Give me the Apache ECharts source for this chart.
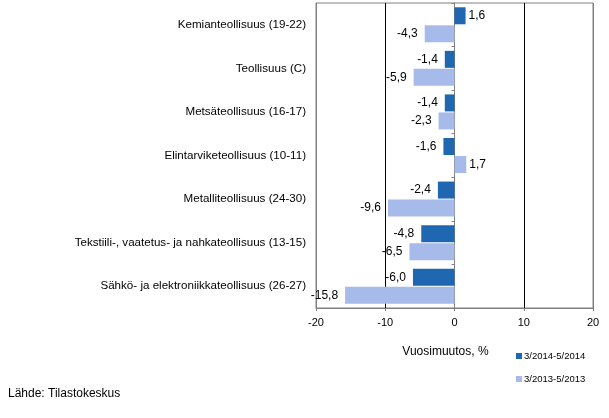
<!DOCTYPE html>
<html>
<head>
<meta charset="utf-8">
<script src="https://cdn.jsdelivr.net/npm/echarts@6/dist/echarts.min.js"></script>
<style>
  html, body { margin: 0; padding: 0; background: #fff; }
  #chart { width: 609px; height: 418px; }
</style>
</head>
<body>
<div id="chart"></div>
<script>
// toimialat ylhäältä alas
const categories = [
  'Kemianteollisuus (19-22)',
  'Teollisuus (C)',
  'Metsäteollisuus (16-17)',
  'Elintarviketeollisuus (10-11)',
  'Metalliteollisuus (24-30)',
  'Tekstiili-, vaatetus- ja nahkateollisuus (13-15)',
  'Sähkö- ja elektroniikkateollisuus (26-27)'
]
const series2014 = [1.6, -1.4, -1.4, -1.6, -2.4, -4.8, -6.0]
const series2013 = [-4.3, -5.9, -2.3, 1.7, -9.6, -6.5, -15.8]
const seriesNames = ['3/2014-5/2014', '3/2013-5/2013']
const xTicks = [-20, -10, 0, 10, 20]

const FONT = '"Liberation Sans", Arial, sans-serif'

// label oikealle positiivisille, vasemmalle negatiivisille
const toItems = (arr) => arr.map((v) => ({
  value: v,
  label: {
    position: v >= 0 ? 'right' : 'left',
    distance: v >= 0 ? 3 : 7
  }
}))

const barSeries = (name, arr, color) => ({
  name: name,
  type: 'bar',
  data: toItems(arr),
  barWidth: 17,
  barGap: '6%',
  itemStyle: { color: color },
  label: {
    show: true,
    color: '#000',
    fontFamily: FONT,
    fontSize: 12,
    formatter: (p) => p.value.toFixed(1).replace('.', ',')
  }
})

const chart = echarts.init(document.getElementById('chart'))
chart.setOption({
  animation: false,
  grid: {
    left: 316, right: 16, top: 3, bottom: 110,
    show: true, borderColor: '#808080', borderWidth: 1
  },
  xAxis: {
    type: 'value',
    min: xTicks[0],
    max: xTicks[xTicks.length - 1],
    interval: 10,
    name: 'Vuosimuutos, %',
    nameLocation: 'middle',
    nameGap: 38,
    nameTextStyle: { fontFamily: FONT, fontSize: 12, color: '#000', padding: [0, 18, 0, 0] },
    axisLine: { show: true, lineStyle: { color: '#808080' } },
    axisTick: { show: true, length: 3, lineStyle: { color: '#808080' } },
    axisLabel: { fontFamily: FONT, fontSize: 11, color: '#000', margin: 9 },
    splitLine: {
      show: true,
      lineStyle: { color: ['#808080', '#000', '#000', '#000', '#808080'], width: 1 }
    }
  },
  yAxis: {
    type: 'category',
    data: categories,
    inverse: true,
    axisLine: { show: true, lineStyle: { color: '#808080' } },
    axisTick: { show: true, length: 3, lineStyle: { color: '#808080' } },
    axisLabel: { fontFamily: FONT, fontSize: 11.6, color: '#000', margin: 10 }
  },
  legend: {
    orient: 'vertical',
    left: 511,
    top: 346,
    itemWidth: 6,
    itemHeight: 6,
    itemGap: 13,
    icon: 'rect',
    textStyle: { fontFamily: FONT, fontSize: 9.5, color: '#000', padding: [0, 0, 0, -3] },
    data: seriesNames
  },
  title: {
    text: 'Lähde: Tilastokeskus',
    left: 3,
    top: 383,
    textStyle: { fontFamily: FONT, fontSize: 12, fontWeight: 'normal', color: '#000' }
  },
  series: [
    barSeries(seriesNames[0], series2014, '#1f67b1'),
    barSeries(seriesNames[1], series2013, '#a6bbea')
  ]
})
</script>
</body>
</html>
